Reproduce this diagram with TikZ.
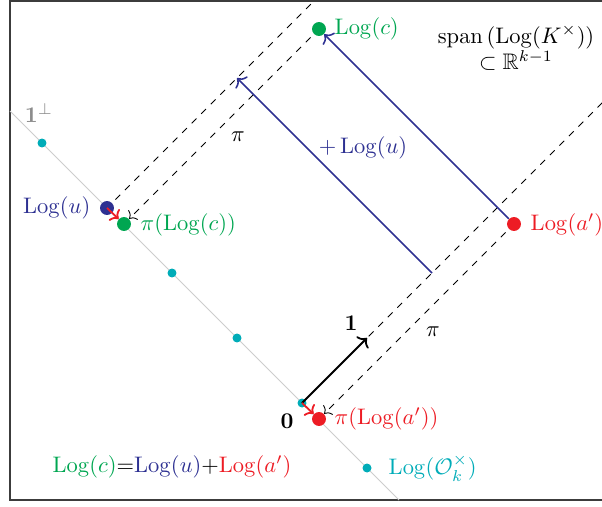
\documentclass[tikz,border=0pt]{standalone}
\usepackage{amsmath,amssymb}
\DeclareMathOperator{\LogOp}{Log}
\usetikzlibrary{calc,arrows.meta}
\definecolor{mygreen}{RGB}{0,166,81}
\definecolor{myred}{RGB}{237,28,36}
\definecolor{myblue}{RGB}{46,49,146}
\definecolor{mycyan}{RGB}{0,172,184}
\definecolor{mygray}{RGB}{140,140,140}
\definecolor{linegray}{RGB}{205,205,205}
\definecolor{framegray}{RGB}{60,60,60}
\begin{document}
\begin{tikzpicture}[x=0.445pt,y=-0.445pt,
  unitdot/.style={circle,fill=mycyan,inner sep=0pt,minimum size=4pt},
  bigdot/.style={circle,inner sep=0pt,minimum size=6.2pt},
  proj/.style={dashed,line width=0.4pt},
  projarr/.style={dashed,-{To[length=2.6pt,width=6pt]},line width=0.4pt,shorten <=2pt},
  bluearr/.style={-{To[length=3.2pt,width=7.5pt]},myblue,line width=0.7pt},
  redarr/.style={-{To[length=3pt,width=7pt]},myred,line width=0.8pt},
  onearr/.style={-{To[length=3.2pt,width=7.5pt]},line width=0.8pt},
  lbl/.style={inner sep=1pt}
]
\useasboundingbox (0,0) rectangle (602,506);
\clip (0,0) rectangle (602,506);
% frame
\coordinate (f1) at (10,1);
\coordinate (f2) at (640,500);
\draw[framegray,line width=0.5pt] (f1) rectangle (f2);
% hyperplane 1^perp
\coordinate (pa) at (10,111);
\coordinate (pb) at (399,500);
\draw[linegray,line width=0.4pt] (pa) -- (pb);
% unit lattice points
\node[unitdot] (u1) at (42,143) {};
\node[unitdot] (u3) at (172,273) {};
\node[unitdot] (u4) at (237,338) {};
\node[unitdot] (O)  at (302,403) {};
\node[unitdot] (u6) at (367,468) {};
% big points
\node[bigdot,fill=myblue]  (U)  at (107,208) {};
\node[bigdot,fill=mygreen] (PC) at (124,224) {};
\node[bigdot,fill=mygreen] (C)  at (319,29) {};
\node[bigdot,fill=myred]   (A)  at (514,224) {};
\node[bigdot,fill=myred]   (PA) at (319,419) {};
% helper coordinates
\coordinate (T)    at (367,338);
\coordinate (topA) at (315,0);
\coordinate (endC) at (612,93);
\coordinate (P2)   at (432,273);
\coordinate (Q2)   at (237,78);
% dashed projection lines
\draw[proj,shorten <=2pt] (U) -- (topA);
\draw[proj] (O.center) -- (endC);
\draw[projarr] (C) -- (PC);
\draw[projarr] (A) -- (PA);
% blue translation arrows
\draw[bluearr] (A) -- (C);
\draw[bluearr] (P2) -- (Q2);
% vector 1
\draw[onearr] (O.center) -- (T);
% red small arrows
\draw[redarr] (U.center) -- (PC);
\draw[redarr] (O.center) -- (PA);
% labels
\node[lbl,mygray] (lperp) at (39,113) {$\mathbf{1}^{\perp}$};
\node[lbl,anchor=east,myblue] (lu) at (93,208) {$\LogOp(u)$};
\node[lbl,anchor=west,mygreen] (lpc) at (138,225) {$\pi(\LogOp(c))$};
\node[lbl,anchor=west,mygreen] (lc) at (332,29) {$\LogOp(c)$};
\node[lbl,align=center] (lspan) at (516,48) {$\operatorname{span}\left(\LogOp(K^{\times})\right)$\\$\subset\mathbb{R}^{k-1}$};
\node[lbl] (pi1) at (238,137) {$\pi$};
\node[lbl] (pi2) at (433,332) {$\pi$};
\node[lbl,myblue] (lplus) at (363,148) {$+\LogOp(u)$};
\node[lbl,anchor=west,myred] (la) at (528,225) {$\LogOp(a')$};
\node[lbl] (lone) at (351,323) {$\mathbf{1}$};
\node[lbl] (lzero) at (287,421) {$\mathbf{0}$};
\node[lbl,anchor=west,myred] (lpa) at (332,419) {$\pi(\LogOp(a'))$};
\node[lbl,anchor=west,mycyan] (lo) at (386,468) {$\LogOp(\mathcal{O}_k^{\times})$};
\node[lbl] (leq) at (172,467) {\textcolor{mygreen}{$\LogOp(c)$}$=$\textcolor{myblue}{$\LogOp(u)$}$+$\textcolor{myred}{$\LogOp(a')$}};
\end{tikzpicture}
\end{document}
